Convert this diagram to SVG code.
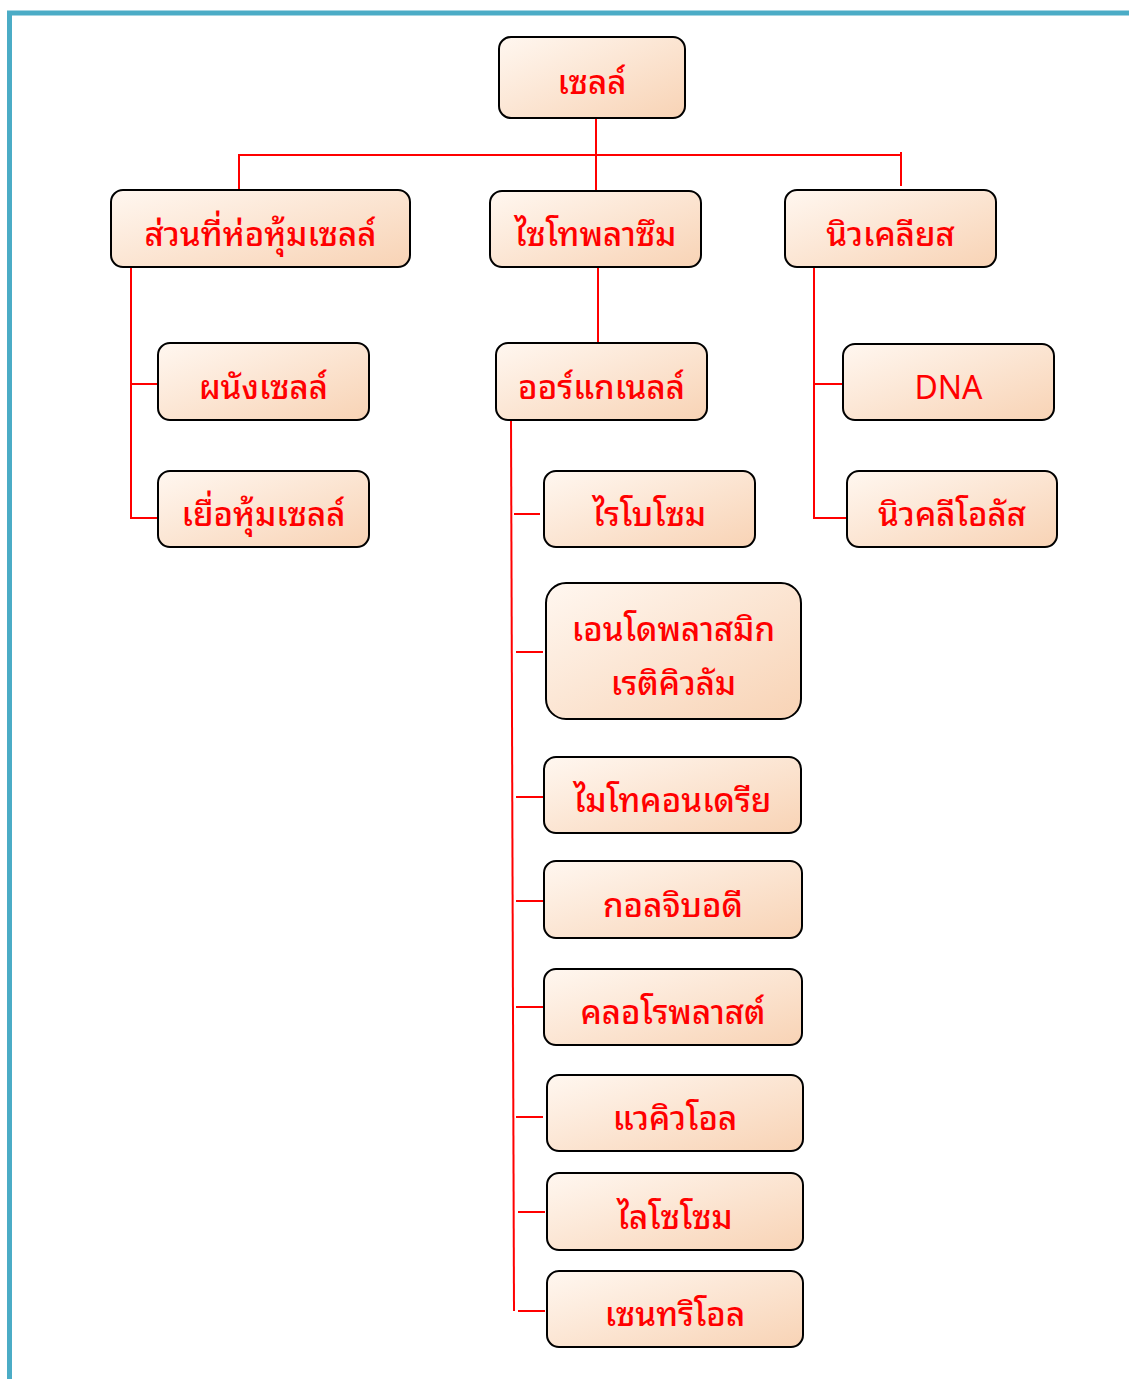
<svg xmlns="http://www.w3.org/2000/svg" width="1129" height="1379" viewBox="0 0 1129 1379">
<defs>
<linearGradient id="g" x1="0" y1="0" x2="1" y2="1">
<stop offset="0" stop-color="#FFF7F0"/>
<stop offset="1" stop-color="#F8D3B5"/>
</linearGradient>
<style>
.n rect{fill:url(#g);stroke:#000;stroke-width:2}
.n text{fill:#FF0000;font-family:"Noto Sans Thai Looped","Noto Sans","Noto Sans Thai","DejaVu Sans",sans-serif;font-size:33px;font-weight:500;text-anchor:middle}
.c path{fill:none;stroke:#FF0000;stroke-width:2}
</style>
</defs>
<rect width="1129" height="1379" fill="#fff"/>
<path d="M9.5 1379 V13 H1129" fill="none" stroke="#4BACC6" stroke-width="5"/>
<g class="c" id="connectors">
<path d="M596 118 V155"/>
<path d="M239 190 V155 H901"/>
<path d="M596 155 V191"/>
<path d="M901 152 V186"/>
<path d="M598 267 V343"/>
<path d="M131 267 V518 H158"/>
<path d="M131 384 H158"/>
<path d="M511 420 L514 1311"/>
<path d="M514 514 H540"/>
<path d="M516 652 H543"/>
<path d="M516 797 H543"/>
<path d="M516 901 H543"/>
<path d="M516 1007 H543"/>
<path d="M516 1117 H543"/>
<path d="M518 1212 H545"/>
<path d="M518 1311 H545"/>
<path d="M814 267 V518 H847"/>
<path d="M814 384 H843"/>
</g>
<g class="n" id="cell"><rect x="499" y="37" width="186" height="81" rx="12"/><text x="592" y="94">เซลล์</text></g>
<g class="n" id="envelope"><rect x="111" y="190" width="299" height="77" rx="12"/><text x="260.5" y="246">ส่วนที่ห่อหุ้มเซลล์</text></g>
<g class="n" id="cytoplasm"><rect x="490" y="191" width="211" height="76" rx="12"/><text x="595.5" y="246">ไซโทพลาซึม</text></g>
<g class="n" id="nucleus"><rect x="785" y="190" width="211" height="77" rx="12"/><text x="890.5" y="246">นิวเคลียส</text></g>
<g class="n" id="cellwall"><rect x="158" y="343" width="211" height="77" rx="12"/><text x="263.5" y="399">ผนังเซลล์</text></g>
<g class="n" id="membrane"><rect x="158" y="471" width="211" height="76" rx="12"/><text x="263.5" y="526">เยื่อหุ้มเซลล์</text></g>
<g class="n" id="organelle"><rect x="496" y="343" width="211" height="77" rx="12"/><text x="601.5" y="399">ออร์แกเนลล์</text></g>
<g class="n" id="dna"><rect x="843" y="344" width="211" height="76" rx="12"/><text x="948.5" y="399" style="font-weight:400;font-size:32px">DNA</text></g>
<g class="n" id="nucleolus"><rect x="847" y="471" width="210" height="76" rx="12"/><text x="952" y="526">นิวคลีโอลัส</text></g>
<g class="n" id="ribosome"><rect x="544" y="471" width="211" height="76" rx="12"/><text x="649.5" y="526">ไรโบโซม</text></g>
<g class="n" id="er"><rect x="546" y="583" width="255" height="136" rx="20"/><text x="673.5" y="641">เอนโดพลาสมิก</text><text x="673.5" y="695">เรติคิวลัม</text></g>
<g class="n" id="mitochondria"><rect x="544" y="757" width="257" height="76" rx="12"/><text x="672.5" y="812">ไมโทคอนเดรีย</text></g>
<g class="n" id="golgi"><rect x="544" y="861" width="258" height="77" rx="12"/><text x="673" y="917">กอลจิบอดี</text></g>
<g class="n" id="chloroplast"><rect x="544" y="969" width="258" height="76" rx="12"/><text x="673" y="1024">คลอโรพลาสต์</text></g>
<g class="n" id="vacuole"><rect x="547" y="1075" width="256" height="76" rx="12"/><text x="675" y="1130">แวคิวโอล</text></g>
<g class="n" id="lysosome"><rect x="547" y="1173" width="256" height="77" rx="12"/><text x="675" y="1229">ไลโซโซม</text></g>
<g class="n" id="centriole"><rect x="547" y="1271" width="256" height="76" rx="12"/><text x="675" y="1326">เซนทริโอล</text></g>
</svg>
